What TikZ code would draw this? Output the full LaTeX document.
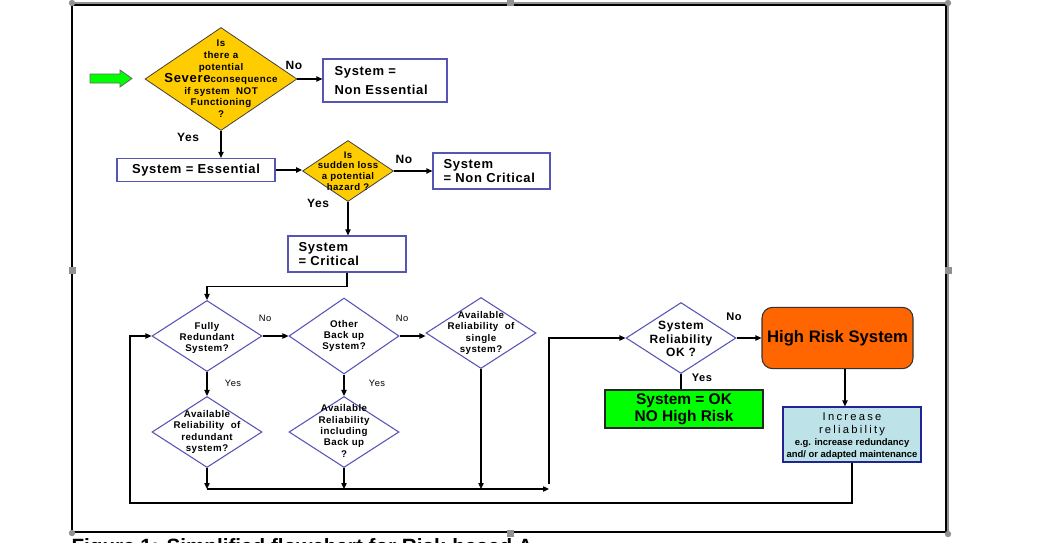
\documentclass[tikz,border=0pt]{standalone}
\usepackage{fontspec}
\setmainfont{Liberation Sans}
\newfontfamily\lsfam[LetterSpace=5]{Liberation Sans}
\newfontfamily\wsfam[LetterSpace=20]{Liberation Sans}
\usetikzlibrary{shapes.geometric,arrows.meta}
\definecolor{dyel}{RGB}{255,204,0}
\definecolor{dblu}{RGB}{85,85,180}
\definecolor{dnavy}{RGB}{35,35,145}
\definecolor{dgrn}{RGB}{0,255,0}
\definecolor{dorg}{RGB}{255,102,0}
\definecolor{dlb}{RGB}{189,227,232}
\definecolor{hgray}{RGB}{145,145,145}
\begin{document}
\begin{tikzpicture}[x=0.75pt,y=-0.75pt,
  line width=0.9pt,
  >={Triangle[length=4.5pt,width=4pt]},
  dia/.style={diamond, draw=dblu, fill=white, inner sep=0pt, line width=0.8pt, minimum width=82.5pt, minimum height=53.25pt},
  ydia/.style={diamond, draw=black!75, fill=dyel, inner sep=0pt, line width=0.6pt},
  box/.style={draw=dblu, fill=white, line width=0.9pt, inner sep=0pt},
  dtxt/.style={font=\lsfam\bfseries\fontsize{7.3}{8.3}\selectfont, align=center, inner sep=0pt},
  btxt/.style={font=\lsfam\bfseries\fontsize{9.75}{14}\selectfont, align=left, inner sep=0pt},
  blab/.style={font=\lsfam\bfseries\fontsize{9}{10}\selectfont, inner sep=0pt},
  slab/.style={font=\lsfam\fontsize{7}{8}\selectfont, inner sep=0pt},
  conn/.style={->},
  plain/.style={-}
]
\useasboundingbox (0,0) rectangle (1044,542);
\clip (0,0) rectangle (1044,542);

% frame
\draw[black, line width=1.6pt] (72,5) rectangle (946,532);
\draw[hgray, line width=0.9pt] (72,3) -- (948,3) -- (948,534);
\foreach \p in {(72,3),(948,3),(72,533),(948,534)} \fill[hgray] \p circle (3.2);
\foreach \p in {(510,3),(72,270),(948,270),(510,533)} \fill[hgray] \p ++(-3.5,-3.5) rectangle ++(7,7);

% caption (cut off by the page edge, as in the reference)
\node[anchor=north west, inner sep=0pt, font=\bfseries\fontsize{15.5}{16}\selectfont] (cap) at (71,538) {Figure 1: Simplified flowchart for Risk-based A};

% green start arrow
\draw[fill=dgrn, draw=black!60, line width=0.6pt] (90,74) -- (120,74) -- (120,70) -- (132,78.5) -- (120,87) -- (120,83) -- (90,83) -- cycle;

% top part
\node[ydia, minimum width=114pt, minimum height=77.25pt] (d1) at (221,79) {};
\node[dtxt, font=\lsfam\bfseries\fontsize{7.3}{8.85}\selectfont] (t1) at (221,79) {Is\\there a\\potential\\{\fontsize{9.8}{9}\selectfont Severe}consequence\\if system\ \ NOT\\Functioning\\?};
\node[box, minimum width=93pt, minimum height=32.25pt] (ne) at (385,80.5) {};
\node[btxt, anchor=west] (tne) at (334,80.5) {System =\\Non Essential};
\node[blab] (no1) at (294,65) {No};
\node[blab] (yes1) at (188,137) {Yes};

\node[box, minimum width=118.5pt, minimum height=17.25pt] (ess) at (196,170) {};
\node[btxt] (tess) at (196,170) {System = Essential};

\node[ydia, minimum width=68.25pt, minimum height=45.75pt] (d2) at (348,171) {};
\node[dtxt, font=\lsfam\bfseries\fontsize{7.2}{7.9}\selectfont] (t2) at (348,171) {Is\\sudden loss\\a potential\\hazard ?};
\node[blab] (no2) at (404,159) {No};
\node[blab] (yes2) at (318,203) {Yes};

\node[box, minimum width=87.75pt, minimum height=27pt] (nc) at (491.5,171) {};
\node[btxt, anchor=west, font=\lsfam\bfseries\fontsize{9.75}{10.5}\selectfont] (tnc) at (443,171) {System\\= Non Critical};

\node[box, minimum width=88.5pt, minimum height=27pt] (cr) at (347,254) {};
\node[btxt, anchor=west, font=\lsfam\bfseries\fontsize{9.75}{10.5}\selectfont] (tcr) at (298,254) {System\\= Critical};

% lower diamonds
\node[dia] (d3) at (207,336) {};
\node[dtxt] (t3) at (207,338) {Fully\\Redundant\\System?};
\node[dia, minimum height=57pt] (d4) at (344,336) {};
\node[dtxt] (t4) at (344,336) {Other\\Back up\\System?};
\node[dia] (d5) at (481,333) {};
\node[dtxt] (t5) at (481,333) {Available\\Reliability\ \ of\\single\\system?};
\node[dia] (d6) at (207,432) {};
\node[dtxt] (t6) at (207,432) {Available\\Reliability\ \ of\\redundant\\system?};
\node[dia] (d7) at (344,432) {};
\node[dtxt, font=\lsfam\bfseries\fontsize{7.3}{8.6}\selectfont] (t7) at (344,431) {Available\\Reliability\\including\\Back up\\?};
\node[slab] (no3) at (265,318) {No};
\node[slab] (no4) at (402,318) {No};
\node[slab] (yes3) at (233,383) {Yes};
\node[slab] (yes4) at (377,383) {Yes};

% right part
\node[dia] (d8) at (681,338) {};
\node[dtxt, font=\lsfam\bfseries\fontsize{9}{10.3}\selectfont] (t8) at (681,339) {System\\Reliability\\OK ?};
\node[blab, font=\lsfam\bfseries\fontsize{8.3}{9}\selectfont] (no5) at (734,317) {No};
\node[blab, font=\lsfam\bfseries\fontsize{8.3}{9}\selectfont] (yes5) at (702,378) {Yes};

\node[draw=black!80, fill=dorg, rounded corners=8pt, line width=0.8pt, minimum width=113.25pt, minimum height=46pt, inner sep=0pt,
  font=\bfseries\fontsize{12.5}{13}\selectfont] (hr) at (837.5,338) {High Risk System};
\node[draw=black!85, fill=dgrn, line width=0.9pt, minimum width=118.5pt, minimum height=28.5pt, inner sep=0pt, align=center,
  font=\bfseries\fontsize{11.6}{12.8}\selectfont] (ok) at (684,409) {System = OK\\NO High Risk};
\node[draw=dnavy, fill=dlb, line width=0.9pt, minimum width=103.5pt, minimum height=41.25pt, inner sep=0pt] (inc) at (852,434.5) {};
\node[align=center, inner sep=0pt, font=\wsfam\fontsize{8.4}{9.8}\selectfont] (tinc) at (852,436) {Increase\\reliability\\[-0.5pt]
  \normalfont\bfseries\fontsize{7.1}{7}\selectfont e.g. increase redundancy\\[-1pt]
  \normalfont\bfseries\fontsize{7.1}{7}\selectfont and/ or adapted maintenance};

% connectors
\draw[conn] (d1.east) -- (d1.east -| ne.west);
\draw[conn] (d1.south) -- (d1.south |- ess.north);
\draw[conn] (ess.east) -- (ess.east -| d2.west);
\draw[conn] (d2.east) -- (nc.west);
\draw[conn] (d2.south) -- (d2.south |- cr.north);
\draw[conn] (cr.south) -- ++(0,14) -| (d3.north);
\draw[conn] (d3.east) -- (d4.west);
\draw[conn] (d4.east) -- (d4.east -| d5.west);
\draw[conn] (d3.south) -- (d6.north);
\draw[conn] (d4.south) -- (d7.north);
\coordinate (b1) at (207,489);
\coordinate (b2) at (344,489);
\coordinate (b3) at (481,489);
\coordinate (b4) at (549,489);
\coordinate (up1) at (549,484);
\coordinate (lb) at (130,503);
\draw[conn] (d6.south) -- (b1);
\draw[conn] (d7.south) -- (b2);
\draw[conn] (d5.south) -- (b3);
\draw[conn] (b1) -- (b4);
\draw[conn] (up1) |- (d8.west);
\draw[conn] (d8.east) -- (hr.west);
\draw[plain] (d8.south) -- (d8.south |- ok.north);
\draw[conn] ([xshift=5.6pt]hr.south) -- ([xshift=5.6pt]hr.south |- inc.north);
\draw[conn] (inc.south) |- (lb) |- (d3.west);
\end{tikzpicture}
\end{document}
